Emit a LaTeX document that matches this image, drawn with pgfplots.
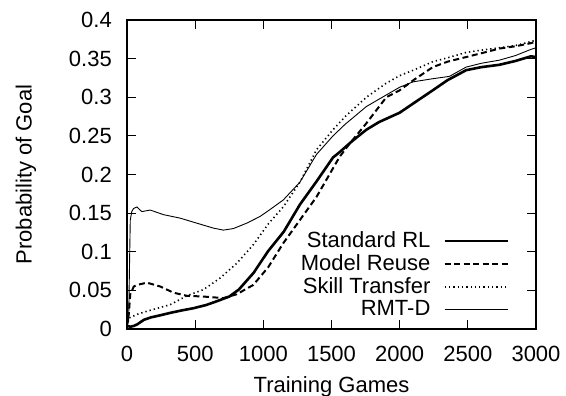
\documentclass[border=0pt]{standalone}
\usepackage{pgfplots}
\pgfplotsset{compat=1.18}
\usepackage{fontspec}
\setmainfont{Liberation Sans}
\begin{document}
\fontsize{22bp}{26bp}\selectfont
\begin{tikzpicture}
\path[use as bounding box] (0,0) rectangle (566bp,396bp);
\begin{axis}[
  at={(127bp,67bp)}, anchor=south west,
  scale only axis, width=409bp, height=309bp,
  xmin=0, xmax=3000, ymin=0, ymax=0.4,
  xtick={0,500,1000,1500,2000,2500,3000},
  ytick={0,0.05,0.1,0.15,0.2,0.25,0.3,0.35,0.4},
  tick align=inside, major tick length=9bp,
  tick style={line width=1bp, black},
  axis line style={line width=1.5bp},
  /pgf/number format/assume math mode=true,
  /pgf/number format/1000 sep={},
  scaled ticks=false,
  yticklabel style={/pgf/number format/fixed, /pgf/number format/precision=2, anchor=east, inner sep=0pt, xshift=-15bp},
  xticklabel style={anchor=north, inner sep=0pt, yshift=-17bp},
  xlabel={Training Games}, ylabel={Probability of Goal},
  xlabel style={at={(axis description cs:0.5,-0.2055)}, anchor=base, inner sep=0pt},
  ylabel style={at={(axis description cs:-0.233,0.5)}, anchor=base, inner sep=0pt},
  legend cell align=right,
  legend plot pos=right,
  legend image code/.code={\draw[#1] (0bp,0bp) -- (63bp,0bp);},
  legend style={draw=none, fill=none, inner sep=0pt, outer sep=0pt,
    row sep=3.8bp, column sep=13bp, nodes={inner sep=0pt},
    at={(rel axis cs:0.934,0.3155)}, anchor=north east},
]
\addplot[black, line width=2.6bp] coordinates {
(0,0.004)(25,0.003)(50,0.004)(75,0.006)(100,0.009)(125,0.012)(175,0.015)(250,0.018)(320,0.021)(400,0.024)(490,0.027)(580,0.031)(660,0.036)(750,0.042)(820,0.051)(880,0.063)(930,0.073)(975,0.085)(1036,0.101)(1150,0.126)(1268,0.161)(1390,0.191)(1511,0.222)(1560,0.229)(1650,0.243)(1756,0.258)(1850,0.268)(2000,0.280)(2100,0.292)(2243,0.309)(2350,0.322)(2487,0.335)(2600,0.339)(2731,0.342)(2850,0.347)(2963,0.353)(3000,0.352)
};
\addlegendentry{Standard RL}
\addplot[black, line width=2bp, dash pattern=on 6bp off 3.5bp] coordinates {
(0,0.015)(12,0.017)(24,0.045)(50,0.055)(73,0.057)(146,0.060)(244,0.055)(341,0.047)(439,0.043)(561,0.042)(707,0.040)(805,0.045)(926,0.057)(1036,0.080)(1146,0.111)(1268,0.141)(1390,0.171)(1560,0.223)(1633,0.240)(1750,0.265)(1902,0.300)(2000,0.309)(2100,0.322)(2243,0.339)(2350,0.346)(2487,0.352)(2600,0.357)(2731,0.363)(2850,0.366)(2963,0.370)(3000,0.372)
};
\addlegendentry{Model Reuse}
\addplot[black, line width=1.6bp, dash pattern=on 1.3bp off 3bp] coordinates {
(0,0.010)(12,0.014)(75,0.019)(146,0.023)(317,0.0315)(439,0.043)(561,0.051)(683,0.066)(805,0.085)(926,0.109)(1036,0.136)(1146,0.158)(1268,0.190)(1390,0.232)(1511,0.258)(1600,0.275)(1756,0.300)(1900,0.318)(2000,0.328)(2100,0.335)(2243,0.346)(2350,0.351)(2487,0.358)(2600,0.361)(2731,0.364)(2850,0.367)(2963,0.372)(3000,0.374)
};
\addlegendentry{Skill Transfer}
\addplot[black, line width=0.9bp] coordinates {
(0,0.003)(12,0.01)(20,0.10)(24,0.141)(35,0.152)(48,0.156)(73,0.158)(95,0.154)(110,0.152)(140,0.153)(170,0.154)(268,0.148)(390,0.1435)(512,0.137)(634,0.1306)(707,0.128)(780,0.130)(878,0.137)(975,0.1456)(1036,0.153)(1146,0.167)(1268,0.190)(1390,0.226)(1511,0.250)(1600,0.265)(1756,0.288)(1902,0.303)(2000,0.313)(2100,0.320)(2243,0.324)(2365,0.327)(2487,0.339)(2600,0.344)(2731,0.348)(2850,0.354)(2963,0.362)(3000,0.364)
};
\addlegendentry{RMT-D}
\end{axis}
\end{tikzpicture}
\end{document}
